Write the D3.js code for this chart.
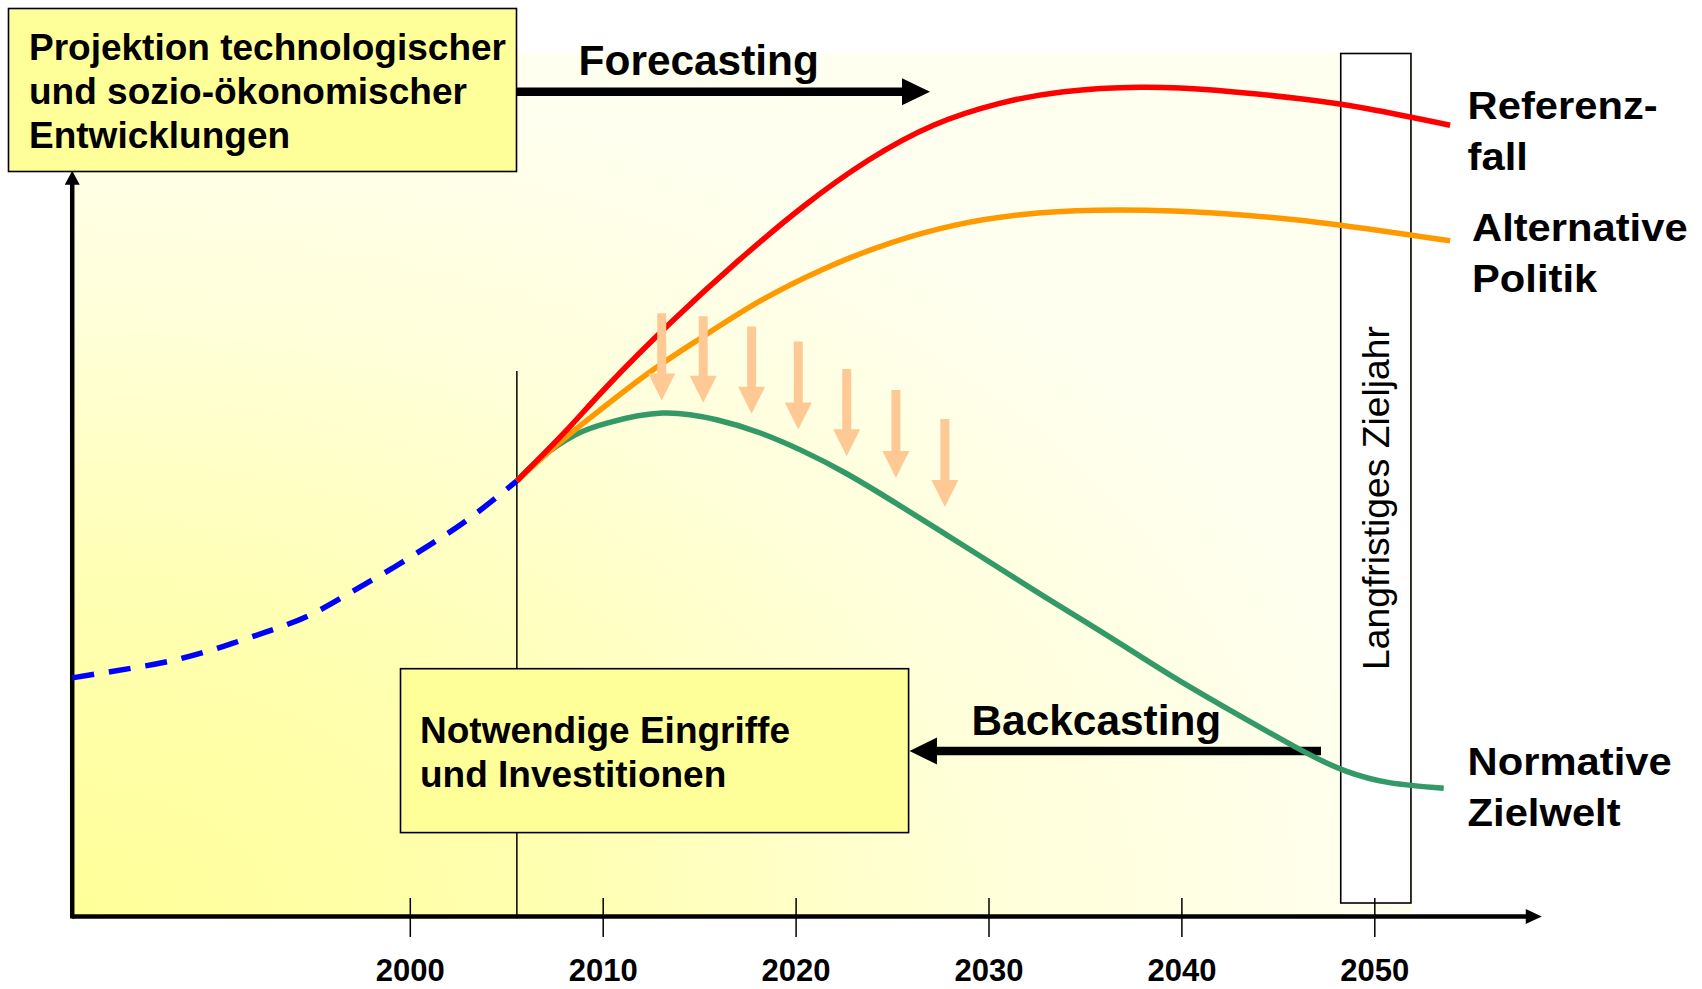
<!DOCTYPE html>
<html>
<head>
<meta charset="utf-8">
<script src="https://cdn.jsdelivr.net/npm/d3@7"></script>
<style>
  html, body { margin: 0; padding: 0; background: #ffffff; }
  svg { display: block; }
  text { font-family: "Liberation Sans", Arial, Helvetica, sans-serif; }
</style>
</head>
<body>
<svg id="chart" width="1702" height="989"></svg>
<script>
// ---- data (years / index values) ----
const tickYears = [2000, 2010, 2020, 2030, 2040, 2050];

const historyYears  = [1982.5, 1985.6, 1988.0, 1990.3, 1992.6, 1994.8, 1996.9, 1999.1, 2001.2, 2003.1, 2005.55];
const historyValues = [32.0, 33.3, 34.5, 36.2, 38.2, 40.4, 43.4, 46.7, 50.1, 53.4, 58.4];

const referenceYears  = [2005.55, 2008.02, 2010.27, 2013.64, 2017.02, 2020.40, 2023.77, 2027.15, 2030.53, 2033.90, 2037.84, 2041.78, 2046.28, 2049.66, 2053.93];
const referenceValues = [58.4, 64.9, 71.2, 79.9, 87.9, 95.2, 101.4, 106.1, 109.0, 110.6, 111.2, 110.8, 109.6, 108.3, 106.1];

const alternativeYears  = [2005.55, 2007.6, 2009.86, 2012.45, 2015.05, 2018.14, 2021.52, 2024.9, 2028.27, 2031.65, 2035.59, 2039.53, 2043.47, 2047.97, 2053.93];
const alternativeValues = [58.4, 63.2, 67.9, 73.0, 77.5, 82.5, 86.9, 90.3, 92.7, 94.1, 94.7, 94.6, 94.0, 92.8, 90.6];

const normativeYears  = [2005.55, 2006.89, 2008.58, 2010.27, 2013.1, 2015.9, 2018.1, 2020.3, 2022.7, 2025.4, 2027.5, 2029.4, 2032.77, 2036.15, 2039.53, 2042.9, 2046.28, 2048.53, 2050.78, 2053.6];
const normativeValues = [58.4, 61.7, 64.6, 66.2, 67.5, 66.6, 64.9, 62.5, 59.3, 55.1, 51.7, 48.6, 43.1, 37.7, 32.2, 27.1, 22.2, 19.5, 17.95, 17.2];

// downward pressure arrows between forecast and target path
const pushYears  = [2013.06, 2015.21, 2017.72, 2020.14, 2022.65, 2025.2, 2027.74];
const pushFrom   = [80.9, 80.5, 79.1, 77.1, 73.4, 70.6, 66.7];
const pushTo     = [69.2, 68.9, 67.4, 65.3, 61.7, 58.8, 54.9];

const axisStartYear = 1982.5;
const axisEndYear   = 2058.68;
const presentYear   = 2005.55;
const targetBand    = [2048.26, 2051.9];

// ---- scales ----
const x = d3.scaleLinear().domain([2000, 2050]).range([409.8, 1374.3]);
const y = d3.scaleLinear().domain([0, 100]).range([916.5, 170.7]);

const svg = d3.select("#chart");
const FONT = '"Liberation Sans", Arial, Helvetica, sans-serif';

// ---- background gradient ----
const defs = svg.append("defs");
const grad = defs.append("radialGradient")
  .attr("id", "bgGrad")
  .attr("cx", 0).attr("cy", 1).attr("r", 1).attr("fx", 0).attr("fy", 1);
grad.append("stop").attr("offset", "0%").attr("stop-color", "#ffff99");
grad.append("stop").attr("offset", "35%").attr("stop-color", "#ffffb0");
grad.append("stop").attr("offset", "70%").attr("stop-color", "#ffffda");
grad.append("stop").attr("offset", "100%").attr("stop-color", "#fffff0");

svg.append("rect")
  .attr("x", x(axisStartYear)).attr("y", 53)
  .attr("width", 1413 - x(axisStartYear)).attr("height", y(0) - 53)
  .attr("fill", "url(#bgGrad)");

// ---- target-year column ----
svg.append("rect")
  .attr("x", x(targetBand[0])).attr("y", 53.5)
  .attr("width", x(targetBand[1]) - x(targetBand[0])).attr("height", 903 - 53.5)
  .attr("fill", "#ffffff").attr("stroke", "#000").attr("stroke-width", 1.6);

svg.append("text")
  .attr("transform", `translate(${x((targetBand[0] + targetBand[1]) / 2) + 13},498) rotate(-90)`)
  .attr("text-anchor", "middle")
  .attr("font-size", 37.5)
  .attr("textLength", 344).attr("lengthAdjust", "spacingAndGlyphs")
  .attr("fill", "#000")
  .text("Langfristiges Zieljahr");

// ---- present-year marker ----
svg.append("line")
  .attr("x1", x(presentYear)).attr("x2", x(presentYear))
  .attr("y1", 371).attr("y2", y(0))
  .attr("stroke", "#000").attr("stroke-width", 1.5);

// ---- x axis ticks & labels ----
const xAxis = d3.axisBottom(x)
  .tickValues(tickYears)
  .tickFormat(d3.format("d"))
  .tickSize(39)
  .tickSizeOuter(0);

const axisG = svg.append("g")
  .attr("transform", "translate(0,898)")
  .call(xAxis);
axisG.select(".domain").remove();
axisG.selectAll(".tick line").attr("stroke", "#000").attr("stroke-width", 1.5);
axisG.selectAll(".tick text")
  .attr("y", 83).attr("dy", 0)
  .attr("font-family", FONT)
  .attr("font-weight", "bold")
  .attr("font-size", 31)
  .attr("fill", "#000");

// ---- main axes with arrowheads ----
const x0 = x(axisStartYear), yb = y(0);
svg.append("line")
  .attr("x1", x0).attr("x2", x(axisEndYear) - 14)
  .attr("y1", yb).attr("y2", yb)
  .attr("stroke", "#000").attr("stroke-width", 4.5);
svg.append("path")
  .attr("d", `M${x(axisEndYear)},${yb} L${x(axisEndYear) - 16},${yb - 7.5} L${x(axisEndYear) - 16},${yb + 7.5} Z`)
  .attr("fill", "#000");

svg.append("line")
  .attr("x1", x0).attr("x2", x0)
  .attr("y1", yb + 2).attr("y2", y(100) + 12)
  .attr("stroke", "#000").attr("stroke-width", 4.5);
svg.append("path")
  .attr("d", `M${x0},${y(100)} L${x0 - 7.5},${y(100) + 14} L${x0 + 7.5},${y(100) + 14} Z`)
  .attr("fill", "#000");

// ---- Backcasting arrow + label ----
const backY = 751;
svg.append("line")
  .attr("x1", 930).attr("x2", 1321)
  .attr("y1", backY).attr("y2", backY)
  .attr("stroke", "#000").attr("stroke-width", 8.5);
svg.append("path")
  .attr("d", `M909.5,${backY} L937,${backY - 13.5} L937,${backY + 13.5} Z`)
  .attr("fill", "#000");
svg.append("text")
  .attr("x", 971.5).attr("y", 735)
  .attr("font-weight", "bold").attr("font-size", 42.4)
  .attr("fill", "#000")
  .text("Backcasting");

// ---- scenario curves ----
const line = d3.line()
  .x(d => x(d[0]))
  .y(d => y(d[1]))
  .curve(d3.curveNatural);

const zip = (a, b) => a.map((v, i) => [v, b[i]]);

svg.append("path")
  .datum(zip(historyYears, historyValues))
  .attr("d", line)
  .attr("fill", "none")
  .attr("stroke", "#0000ff").attr("stroke-width", 5.5)
  .attr("stroke-dasharray", "22,15");

const scenarios = [
  { years: normativeYears,   values: normativeValues,   color: "#339966" },
  { years: alternativeYears, values: alternativeValues, color: "#ff9900" },
  { years: referenceYears,   values: referenceValues,   color: "#ff0000" }
];
scenarios.forEach(s => {
  svg.append("path")
    .datum(zip(s.years, s.values))
    .attr("d", line)
    .attr("fill", "none")
    .attr("stroke", s.color)
    .attr("stroke-width", 5.5)
    .attr("stroke-linecap", "butt");
});

// ---- downward pressure arrows ----
pushYears.forEach((yr, i) => {
  const cx = x(yr), top = y(pushFrom[i]), tip = y(pushTo[i]);
  const headLen = 27, headHalf = 13.5, shaftHalf = 4.5;
  svg.append("path")
    .attr("d", `M${cx - shaftHalf},${top} L${cx + shaftHalf},${top} L${cx + shaftHalf},${tip - headLen}
                L${cx + headHalf},${tip - headLen} L${cx},${tip} L${cx - headHalf},${tip - headLen}
                L${cx - shaftHalf},${tip - headLen} Z`)
    .attr("fill", "#ffc996");
});

// ---- Forecasting arrow + label ----
const foreY = 91.7;
svg.append("line")
  .attr("x1", 516).attr("x2", 905)
  .attr("y1", foreY).attr("y2", foreY)
  .attr("stroke", "#000").attr("stroke-width", 8.5);
svg.append("path")
  .attr("d", `M930,${foreY} L902,${foreY - 13.5} L902,${foreY + 13.5} Z`)
  .attr("fill", "#000");
svg.append("text")
  .attr("x", 578.6).attr("y", 74.5)
  .attr("font-weight", "bold").attr("font-size", 42.4)
  .attr("fill", "#000")
  .text("Forecasting");

// ---- annotation boxes ----
function noteBox(x1, y1, x2, y2, lines, tx, baselines) {
  svg.append("rect")
    .attr("x", x1).attr("y", y1)
    .attr("width", x2 - x1).attr("height", y2 - y1)
    .attr("fill", "#ffff99").attr("stroke", "#000").attr("stroke-width", 1.6);
  lines.forEach((t, i) => {
    svg.append("text")
      .attr("x", tx).attr("y", baselines[i])
      .attr("font-weight", "bold").attr("font-size", 37)
      .attr("fill", "#000")
      .text(t);
  });
}

noteBox(8.5, 8.5, 516.5, 171.5,
  ["Projektion technologischer", "und sozio-ökonomischer", "Entwicklungen"],
  29, [59.7, 104.2, 147.6]);

noteBox(400.5, 668.7, 908.6, 832.6,
  ["Notwendige Eingriffe", "und Investitionen"],
  420, [742.5, 787]);

// ---- scenario labels ----
const scenarioLabels = [
  { lines: ["Referenz-", "fall"],          x: 1467.6, base: 119.4 },
  { lines: ["Alternative", "Politik"],     x: 1472,   base: 241 },
  { lines: ["Normative", "Zielwelt"],      x: 1467.6, base: 775 }
];
scenarioLabels.forEach(l => {
  l.lines.forEach((t, i) => {
    svg.append("text")
      .attr("transform", `translate(${l.x},${l.base + i * 50.5}) scale(1.07,1)`)
      .attr("font-weight", "bold").attr("font-size", 39)
      .attr("fill", "#000")
      .text(t);
  });
});
</script>
</body>
</html>
